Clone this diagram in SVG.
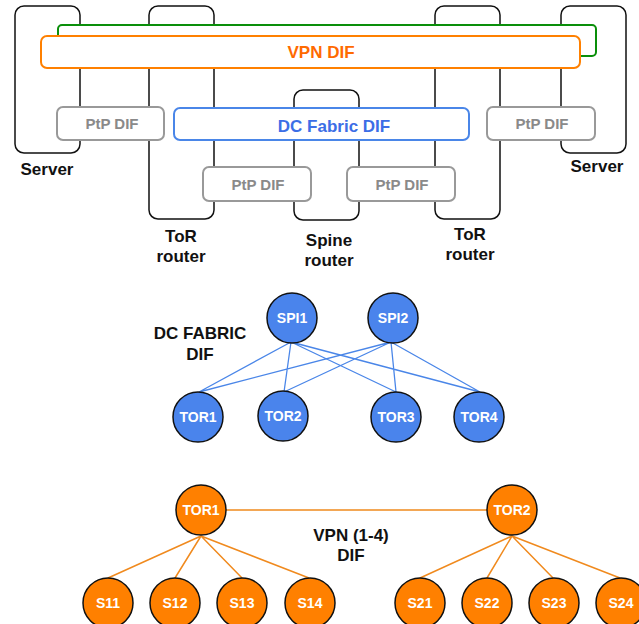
<svg xmlns="http://www.w3.org/2000/svg" width="639" height="624" viewBox="0 0 639 624">
<style>
text{font-family:"Liberation Sans",Arial,sans-serif;font-weight:bold;text-anchor:middle}
.dev{fill:#fff;stroke:#111;stroke-width:1.5}
.lbl{font-size:17px;fill:#111}
.ptp{fill:#fff;stroke:#999;stroke-width:2}
.ptpt{font-size:15px;fill:#8a8a8a}
.bn{fill:#4a84ec;stroke:#111;stroke-width:1.5}
.on{fill:#ff8000;stroke:#111;stroke-width:1.5}
.nt{font-size:14px;fill:#fff}
.bl{stroke:#4a86e8;stroke-width:1.3;fill:none}
.ol{stroke:#f08a1e;stroke-width:1.5;fill:none}
</style>
<g id="server-left"><rect class="dev" x="15" y="6" width="65" height="147" rx="9"/><text class="lbl" x="47" y="175">Server</text></g>
<g id="tor-left"><rect class="dev" x="149" y="6" width="65" height="213" rx="9"/><text class="lbl" x="181" y="242">ToR</text><text class="lbl" x="181" y="262">router</text></g>
<g id="spine"><rect class="dev" x="294" y="90" width="65" height="130" rx="9"/><text class="lbl" x="329" y="246">Spine</text><text class="lbl" x="329" y="266">router</text></g>
<g id="tor-right"><rect class="dev" x="435" y="6" width="65" height="213" rx="9"/><text class="lbl" x="470" y="240">ToR</text><text class="lbl" x="470" y="260">router</text></g>
<g id="server-right"><rect class="dev" x="561" y="6" width="65" height="147" rx="9"/><text class="lbl" x="597" y="172">Server</text></g>
<g id="green-dif"><rect x="58" y="25" width="538" height="31" rx="4" fill="#fff" stroke="#0a8f0a" stroke-width="2"/></g>
<g id="vpn-dif"><rect x="41" y="36" width="539" height="32" rx="6" fill="#fff" stroke="#ff8000" stroke-width="2"/><text x="321" y="58" font-size="17" fill="#ff6a00">VPN DIF</text></g>
<g id="ptp-1"><rect class="ptp" x="57" y="107" width="107" height="33" rx="6"/><text class="ptpt" x="112" y="129">PtP DIF</text></g>
<g id="dc-fabric-dif"><rect x="174" y="108" width="295" height="32" rx="6" fill="#fff" stroke="#4a86e8" stroke-width="2"/><text x="334" y="132" font-size="17" fill="#3c6ee6">DC Fabric DIF</text></g>
<g id="ptp-2"><rect class="ptp" x="487" y="107" width="108" height="33" rx="6"/><text class="ptpt" x="542" y="129">PtP DIF</text></g>
<g id="ptp-3"><rect class="ptp" x="203" y="167" width="108" height="34" rx="6"/><text class="ptpt" x="258" y="190">PtP DIF</text></g>
<g id="ptp-4"><rect class="ptp" x="347" y="167" width="108" height="34" rx="6"/><text class="ptpt" x="402" y="190">PtP DIF</text></g>
<g id="connectors">
<path class="bl" d="M291 342L199 392M291 342L284 392M291 342L396 392M291 342L480 392M391 342L199 392M391 342L284 392M391 342L396 392M391 342L480 392"/>
<path class="ol" d="M226 510H487M201 536L108 578M201 536L175 578M201 536L242 578M201 536L309 578M512 536L420 578M512 536L487 578M512 536L553 578M512 536L620 578"/>
</g>
<g id="dc-fabric-label"><text class="lbl" x="200" y="339">DC FABRIC</text><text class="lbl" x="200" y="360">DIF</text></g>
<g id="SPI1"><circle class="bn" cx="292" cy="318" r="25"/><text class="nt" x="292" y="323">SPI1</text></g>
<g id="SPI2"><circle class="bn" cx="393" cy="318" r="25"/><text class="nt" x="393" y="323">SPI2</text></g>
<g id="TOR1-f"><circle class="bn" cx="198" cy="417" r="25"/><text class="nt" x="198" y="422">TOR1</text></g>
<g id="TOR2-f"><circle class="bn" cx="283" cy="416" r="25"/><text class="nt" x="283" y="421">TOR2</text></g>
<g id="TOR3-f"><circle class="bn" cx="396" cy="417" r="25"/><text class="nt" x="396" y="422">TOR3</text></g>
<g id="TOR4-f"><circle class="bn" cx="479" cy="417" r="25"/><text class="nt" x="479" y="422">TOR4</text></g>
<g id="vpn-label"><text class="lbl" x="351" y="541">VPN (1-4)</text><text class="lbl" x="351" y="561">DIF</text></g>
<g id="TOR1-v"><circle class="on" cx="201" cy="510" r="25"/><text class="nt" x="201" y="515">TOR1</text></g>
<g id="TOR2-v"><circle class="on" cx="512" cy="510" r="25"/><text class="nt" x="512" y="515">TOR2</text></g>
<g id="S11"><circle class="on" cx="108" cy="603" r="25"/><text class="nt" x="108" y="608">S11</text></g>
<g id="S12"><circle class="on" cx="175" cy="603" r="25"/><text class="nt" x="175" y="608">S12</text></g>
<g id="S13"><circle class="on" cx="242" cy="603" r="25"/><text class="nt" x="242" y="608">S13</text></g>
<g id="S14"><circle class="on" cx="310" cy="603" r="25"/><text class="nt" x="310" y="608">S14</text></g>
<g id="S21"><circle class="on" cx="420" cy="603" r="25"/><text class="nt" x="420" y="608">S21</text></g>
<g id="S22"><circle class="on" cx="487" cy="603" r="25"/><text class="nt" x="487" y="608">S22</text></g>
<g id="S23"><circle class="on" cx="554" cy="603" r="25"/><text class="nt" x="554" y="608">S23</text></g>
<g id="S24"><circle class="on" cx="621" cy="603" r="25"/><text class="nt" x="621" y="608">S24</text></g>
</svg>
